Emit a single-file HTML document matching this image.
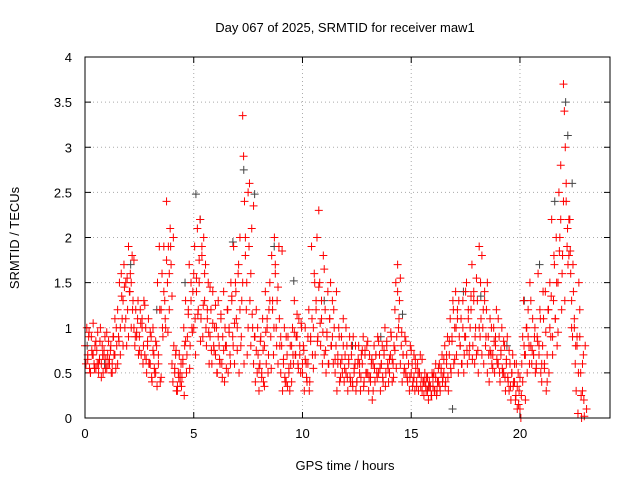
<!DOCTYPE html>
<html><head><meta charset="utf-8"><style>
body{margin:0;background:#fff}
svg text{font-family:"Liberation Sans",sans-serif;font-size:13px;fill:#000}
</style></head><body>
<svg id="chart" width="640" height="480" xmlns="http://www.w3.org/2000/svg">
<rect width="640" height="480" fill="#fff"/>
<text x="345" y="32" text-anchor="middle">Day 067 of 2025, SRMTID for receiver maw1</text>
<g id="grid"></g>
<g id="ticks"></g>
<g id="gray"></g>
<g id="red"></g>
<rect x="85" y="57" width="525" height="361" fill="none" stroke="#000" stroke-width="1"/>
<text x="345" y="470" text-anchor="middle">GPS time / hours</text>
<text x="0" y="0" text-anchor="middle" transform="translate(19,238) rotate(-90)">SRMTID / TECUs</text>
</svg>
<script>
const xTicks=[0,5,10,15,20];
const yTicks=[0,0.5,1,1.5,2,2.5,3,3.5,4];
const yTickLabels=["0","0.5","1","1.5","2","2.5","3","3.5","4"];
const binStart=0, binWidth=0.25;
const redBins=[
[0.8,0.6,1.0,0.7,0.9,0.55],[0.5,0.9,0.7,1.05,0.6,0.8],[0.55,0.75,0.95,0.5,0.65,1.0],[0.6,0.8,0.5,0.7,0.9,0.65],
[0.55,0.7,0.85,0.6,0.75,0.5],[0.6,0.9,0.7,1.1,0.55,0.8],[1.2,0.9,1.5,0.7,1.6,1.1],[1.3,1.7,1.0,1.5,0.8,1.2],
[1.9,1.4,1.6,1.0,1.8,1.3],[1.0,0.8,1.2,0.9,1.1,0.7],[0.9,1.2,0.7,1.0,0.6,1.3],[0.7,1.0,0.5,0.8,1.1,0.6],
[0.6,0.9,0.4,1.0,0.7,0.5],[0.5,0.8,1.5,0.6,1.9,0.4],[1.2,1.6,0.9,1.9,1.3,1.0],[2.4,1.5,1.9,1.2,2.1,1.7],
[0.6,0.4,0.8,0.5,0.7,0.3],[0.3,0.5,0.7,0.4,0.6,0.45],[0.6,1.0,0.8,1.3,0.5,0.9],[1.2,1.7,0.8,1.5,1.0,1.4],
[1.0,1.9,0.7,1.4,2.1,1.2],[1.5,2.2,1.1,1.8,0.9,2.0],[1.3,1.7,0.8,1.1,1.5,0.6],[0.9,1.2,0.6,1.4,0.8,1.0],
[0.7,1.0,0.5,1.3,0.8,0.6],[1.1,0.6,0.9,1.4,0.4,0.8],[0.8,1.2,0.5,1.0,0.7,1.5],[1.3,0.9,1.9,0.6,1.5,1.1],
[1.0,1.6,0.5,2.0,0.8,1.3],[3.35,2.9,2.4,1.8,1.2,0.7],[2.5,1.9,1.3,0.8,2.1,1.0],[0.6,0.9,0.4,1.2,0.5,0.7],
[0.3,0.6,0.9,0.5,1.1,0.4],[0.8,1.4,0.6,1.0,0.5,1.2],[1.5,0.9,1.8,1.2,0.7,2.0],[1.7,1.0,1.3,0.6,1.9,0.8],
[0.5,0.8,0.3,0.6,1.0,0.4],[0.4,0.7,0.9,0.5,0.3,0.6],[0.8,1.0,0.6,1.3,0.7,0.9],[0.9,0.6,1.1,0.7,0.5,1.0],
[0.5,0.8,0.3,1.0,0.6,0.4],[0.6,1.2,0.4,0.9,1.9,0.7],[1.0,1.6,0.7,1.3,2.0,0.9],[2.3,1.5,0.8,1.1,0.6,1.8],
[0.7,1.2,0.5,0.9,1.4,0.6],[1.1,1.5,0.8,1.3,0.6,1.0],[0.5,0.8,0.3,0.7,1.0,0.4],[0.6,0.9,0.5,1.1,0.4,0.7],
[0.5,0.8,0.3,0.6,0.9,0.4],[0.7,0.4,0.9,0.5,0.6,0.3],[0.4,0.6,0.8,0.5,0.3,0.7],[0.6,0.9,0.4,0.7,0.5,0.8],
[0.5,0.3,0.7,0.4,0.6,0.2],[0.6,0.8,0.4,0.7,0.5,0.9],[0.5,0.7,0.3,0.6,0.8,0.4],[0.7,1.0,0.5,0.8,0.6,0.4],
[0.5,0.7,0.9,0.4,0.6,0.8],[1.2,1.5,0.9,1.7,1.0,1.3],[0.6,0.8,0.4,0.7,0.5,0.9],[0.5,0.7,0.4,0.6,0.3,0.8],
[0.5,0.6,0.4,0.7,0.3,0.55],[0.4,0.6,0.3,0.5,0.7,0.45],[0.3,0.4,0.25,0.5,0.35,0.45],[0.3,0.2,0.4,0.35,0.25,0.5],
[0.35,0.5,0.3,0.6,0.25,0.4],[0.4,0.6,0.3,0.5,0.7,0.45],[0.5,0.8,0.4,0.6,0.9,0.3],[0.7,1.1,0.5,0.9,1.3,0.6],
[1.0,1.4,0.7,1.2,0.5,0.9],[0.8,1.1,0.6,1.3,0.5,0.9],[0.9,1.5,0.6,1.2,0.7,1.0],[1.2,1.7,0.8,1.4,0.6,1.0],
[0.7,1.3,0.5,1.9,0.9,1.1],[1.8,1.0,0.6,1.4,0.8,1.2],[0.5,0.9,0.4,1.1,0.7,0.6],[0.7,1.0,0.5,0.8,1.2,0.6],
[0.6,0.9,0.4,0.7,1.0,0.5],[0.5,0.8,0.3,0.6,0.9,0.4],[0.3,0.6,0.2,0.5,0.7,0.4],[0.4,0.2,0.6,0.1,0.5,0.3],
[0.1,0.0,0.6,0.9,1.3,0.7],[0.7,1.0,0.5,1.2,0.8,1.5],[0.8,0.6,1.1,0.7,0.9,0.5],[0.6,0.9,1.6,0.7,1.2,0.5],
[0.4,0.8,1.1,0.6,1.4,0.3],[0.7,1.2,0.5,1.5,0.9,2.2],[0.9,1.3,1.7,1.1,2.0,0.8],[1.5,2.5,2.0,2.8,1.2,1.8],
[3.7,3.4,3.0,2.4,1.9,1.7],[1.8,2.2,1.6,1.0,0.9,1.4],[1.0,0.6,0.3,0.8,0.05,1.5],[0.9,0.5,0.0,0.3,0.7,0.02]
];
const binOffset2=0.125;
const redBins2=[
[0.65,0.95,0.5,0.75],[0.7,0.55,0.85,0.6],[0.6,0.85,0.45,0.7],[0.75,0.55,0.95,0.6],
[0.65,0.8,0.5,0.9],[0.7,1.0,0.6,0.85],[1.0,1.35,0.8,1.45],[1.1,1.55,0.9,1.4],
[1.5,1.2,1.75,0.9],[0.95,1.3,0.75,1.05],[1.1,0.8,1.25,0.65],[0.85,0.6,0.95,0.45],
[0.75,0.55,0.85,0.35],[0.7,1.2,0.45,1.0],[1.4,1.1,1.75,0.95],[1.6,1.9,1.35,2.0],
[0.55,0.75,0.35,0.45],[0.5,0.35,0.65,0.25],[0.85,0.7,1.15,0.55],[1.3,0.95,1.6,1.1],
[1.55,1.15,1.75,0.85],[1.9,1.25,1.6,1.0],[1.2,0.95,1.45,0.75],[1.05,0.75,1.25,0.5],
[0.9,0.65,1.15,0.45],[0.75,1.0,0.55,1.2],[0.95,0.6,1.35,0.8],[1.05,1.4,0.75,1.7],
[1.2,0.9,1.5,0.6],[2.0,1.5,1.0,2.6],[1.6,1.15,2.35,0.9],[0.75,1.0,0.55,0.85],
[0.45,0.75,0.35,0.95],[1.1,0.7,1.3,0.55],[1.3,1.0,1.6,0.8],[1.45,1.1,0.9,1.85],
[0.65,0.45,0.9,0.35],[0.55,0.8,0.4,0.7],[0.95,0.7,1.15,0.55],[0.8,1.05,0.6,0.75],
[0.65,0.45,0.9,0.3],[0.85,1.1,0.55,1.5],[1.2,0.85,1.45,1.05],[1.3,0.95,1.65,0.75],
[0.95,0.6,1.1,0.8],[0.9,1.2,0.65,1.4],[0.6,0.9,0.45,0.65],[0.8,0.55,1.0,0.45],
[0.65,0.45,0.8,0.35],[0.55,0.8,0.4,0.65],[0.6,0.45,0.75,0.35],[0.75,0.5,0.85,0.45],
[0.45,0.65,0.3,0.55],[0.7,0.45,0.85,0.55],[0.6,0.45,0.75,0.35],[0.85,0.55,0.65,0.95],
[0.65,0.45,0.75,0.55],[1.4,1.1,1.55,0.95],[0.7,0.55,0.85,0.45],[0.6,0.45,0.75,0.35],
[0.45,0.65,0.35,0.5],[0.5,0.35,0.65,0.4],[0.4,0.3,0.45,0.35],[0.35,0.25,0.45,0.3],
[0.45,0.3,0.55,0.35],[0.55,0.4,0.65,0.35],[0.7,0.45,0.85,0.55],[0.85,1.2,0.65,1.0],
[1.1,1.3,0.8,0.6],[1.0,0.7,1.4,0.75],[1.1,0.8,1.35,0.65],[1.3,0.9,1.55,0.75],
[1.0,1.5,0.7,1.2],[1.3,0.9,1.5,0.7],[0.75,1.0,0.55,0.85],[0.9,0.65,1.1,0.5],
[0.75,0.55,0.85,0.45],[0.65,0.45,0.75,0.35],[0.5,0.35,0.6,0.25],[0.35,0.15,0.45,0.25],
[0.4,0.8,0.2,1.0],[0.9,0.6,1.3,0.75],[0.7,1.0,0.55,0.85],[0.8,1.1,0.6,1.4],
[0.55,0.95,0.4,1.2],[1.0,1.35,0.7,1.8],[1.1,1.5,0.95,1.85],[2.2,1.6,2.4,1.3],
[2.6,2.1,2.2,1.85],[1.3,1.7,1.1,0.8],[0.9,0.5,1.2,0.25],[0.6,0.2,0.8,0.1]
];
const grayTimes=[0.1,0.9,2.1,3.3,4.6,5.1,5.3,6.8,7.3,7.8,8.7,9.6,11.0,12.3,13.6,14.6,15.8,16.9,17.4,18.2,19.4,20.2,20.9,21.6,22.1,22.2,22.4];
const grayValues=[0.8,0.6,1.7,1.2,1.5,2.48,2.2,1.95,2.75,2.48,1.9,1.52,1.3,0.8,0.9,1.15,0.35,0.1,1.4,1.35,0.8,1.3,1.7,2.4,3.5,3.13,2.6];
const X0=85,X1=610,XMAX=24.14,Y0=418,Y1=57,YMAX=4;
const sx=t=>X0+t/XMAX*(X1-X0);
const sy=v=>Y0-v/YMAX*(Y0-Y1);
const NS="http://www.w3.org/2000/svg";
function mk(tag,attrs,parent){const e=document.createElementNS(NS,tag);for(const k in attrs)e.setAttribute(k,attrs[k]);parent.appendChild(e);return e;}
const grid=document.getElementById('grid'),ticks=document.getElementById('ticks');
xTicks.forEach(t=>{const x=sx(t);
 if(t>0){const g=mk('line',{x1:x,y1:Y1,x2:x,y2:Y0,stroke:'#aaa','stroke-dasharray':'1,3'},grid);
 
 }
 mk('line',{x1:x,y1:Y0,x2:x,y2:Y0-6,stroke:'#000'},ticks);
 mk('line',{x1:x,y1:Y1,x2:x,y2:Y1+6,stroke:'#000'},ticks);
 const l=mk('text',{x:x,y:Y0+20,'text-anchor':'middle'},ticks);l.textContent=t;
 
 
});
yTicks.forEach((v,i)=>{const y=sy(v);
 if(v>0&&v<4){const g=mk('line',{x1:X0,y1:y,x2:X1,y2:y,stroke:'#aaa','stroke-dasharray':'1,3'},grid);
 
 }
 mk('line',{x1:X0,y1:y,x2:X0+6,y2:y,stroke:'#000'},ticks);
 mk('line',{x1:X1,y1:y,x2:X1-6,y2:y,stroke:'#000'},ticks);
 const l=mk('text',{x:X0-13,y:y+5,'text-anchor':'end'},ticks);l.textContent=yTickLabels[i];
 
 
});
function plus(g,t,v,c,name){const x=sx(t),y=sy(v);
 const p=mk('path',{d:`M${x-4},${y}h8M${x},${y-4}v8`,stroke:c,'stroke-width':1,fill:'none'},g);
 
 }
const gg=document.getElementById('gray');
grayTimes.forEach((t,i)=>plus(gg,t,grayValues[i],'#444','gray-point'));
const rg=document.getElementById('red');
redBins.forEach((vals,b)=>{vals.forEach((v,j)=>{plus(rg,binStart+b*binWidth+j*binWidth/vals.length,v,'#ff0000','red-point');});});
redBins2.forEach((vals,b)=>{vals.forEach((v,j)=>{plus(rg,binStart+binOffset2+b*binWidth+j*binWidth/vals.length,v,'#ff0000','red-point');});});
</script>
</body></html>
